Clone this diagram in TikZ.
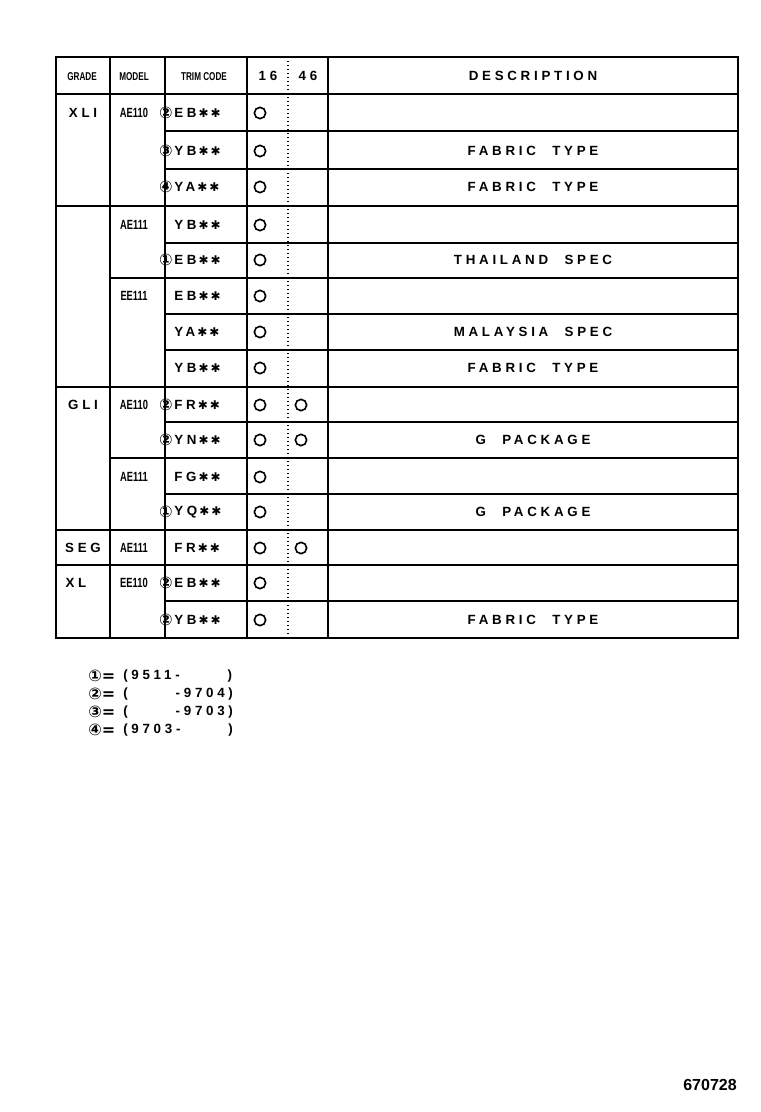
\documentclass[tikz,border=0pt]{standalone}
\usepackage{fontspec}
\setmainfont{Liberation Sans}
\newfontfamily\spacedfont[LetterSpace=28,WordSpace=2.2]{Liberation Sans}
\newfontfamily\dvfont{DejaVu Sans}
\newcommand{\st}{{\dvfont\fontsize{9}{10}\selectfont\,✱\,✱}}
\begin{document}
\begin{tikzpicture}[x=0.75pt,y=-0.75pt,
  t/.style={font=\spacedfont\bfseries\fontsize{10}{12}\selectfont,inner sep=0pt},
  h/.style={font=\bfseries\fontsize{8.5}{9}\selectfont,inner sep=0pt,xscale=0.72},
  m/.style={font=\bfseries\fontsize{10}{10}\selectfont,inner sep=0pt,xscale=0.7},
  c/.style={circle,draw,line width=1.2pt,minimum size=8.5pt,inner sep=0pt},
  cd/.style={font=\dvfont\bfseries\fontsize{12}{12}\selectfont,inner sep=0pt},
  ln/.style={line width=1.4pt}]
\useasboundingbox (0,0) rectangle (760,1112);
% frame
\draw[ln] (56,57) rectangle (738,638);
\foreach \x in {110,165,247,328} \draw[ln] (\x,57) -- (\x,638);
\draw[line width=1pt,dotted] (288,57) -- (288,638);
\foreach \y in {94,206,387,530,565} \draw[ln] (56,\y) -- (738,\y);
\foreach \y in {131,169,243,314,350,422,494,601} \draw[ln] (165,\y) -- (738,\y);
\foreach \y in {278,458} \draw[ln] (110,\y) -- (738,\y);
% header
\node[h] (hg) at (82,77) {GRADE};
\node[h] (hm) at (134,77) {MODEL};
\node[h] (ht) at (204,77) {TRIM CODE};
\node[t] (h16) at (268,76) {16};
\node[t] (h46) at (308,76) {46};
\node[t] (hd) at (533,76) {DESCRIPTION};
% grade
\node[t] at (83,113) {XLI};
\node[t] at (83,405) {GLI};
\node[t] at (83,548) {SEG};
\node[t] at (76,583) {XL};
% model
\foreach \y/\s in {113/AE110,225/AE111,296/EE111,405/AE110,477/AE111,548/AE111,583/EE110}
  \node[m] at (134,\y) {\s};
% trim codes
\foreach \y/\p/\s in {113/②/EB,151/③/YB,187/④/YA,225//YB,260/①/EB,296//EB,332//YA,368//YB,405/②/FR,440/②/YN,477//FG,512/①/YQ,548//FR,583/②/EB,620/②/YB}{
  \node[cd] at (166,\y) {\p};
  \node[t,anchor=west] at (174,\y) {\s\st};
  \node[c] at (260,\y) {};
}
\foreach \y in {405,440,548} \node[c] at (301,\y) {};
% descriptions
\foreach \y/\s in {151/FABRIC TYPE,187/FABRIC TYPE,260/THAILAND SPEC,332/MALAYSIA SPEC,368/FABRIC TYPE,440/G PACKAGE,512/G PACKAGE,620/FABRIC TYPE}
  \node[t] at (533,\y) {\s};
% footnotes
\foreach \y/\p/\s in {676/①/(9511-\hspace{3.6em}),694/②/(\hspace{3.6em}-9704),712/③/(\hspace{3.6em}-9703),730/④/(9703-\hspace{3.6em})}{
  \node[cd,anchor=west] at (88,\y) {\p=};
  \node[t,anchor=west] at (123,\y) {\s};
}
\node[font=\bfseries\fontsize{12}{14}\selectfont,inner sep=0pt] (num) at (710,1085) {670728};
\end{tikzpicture}
\end{document}
